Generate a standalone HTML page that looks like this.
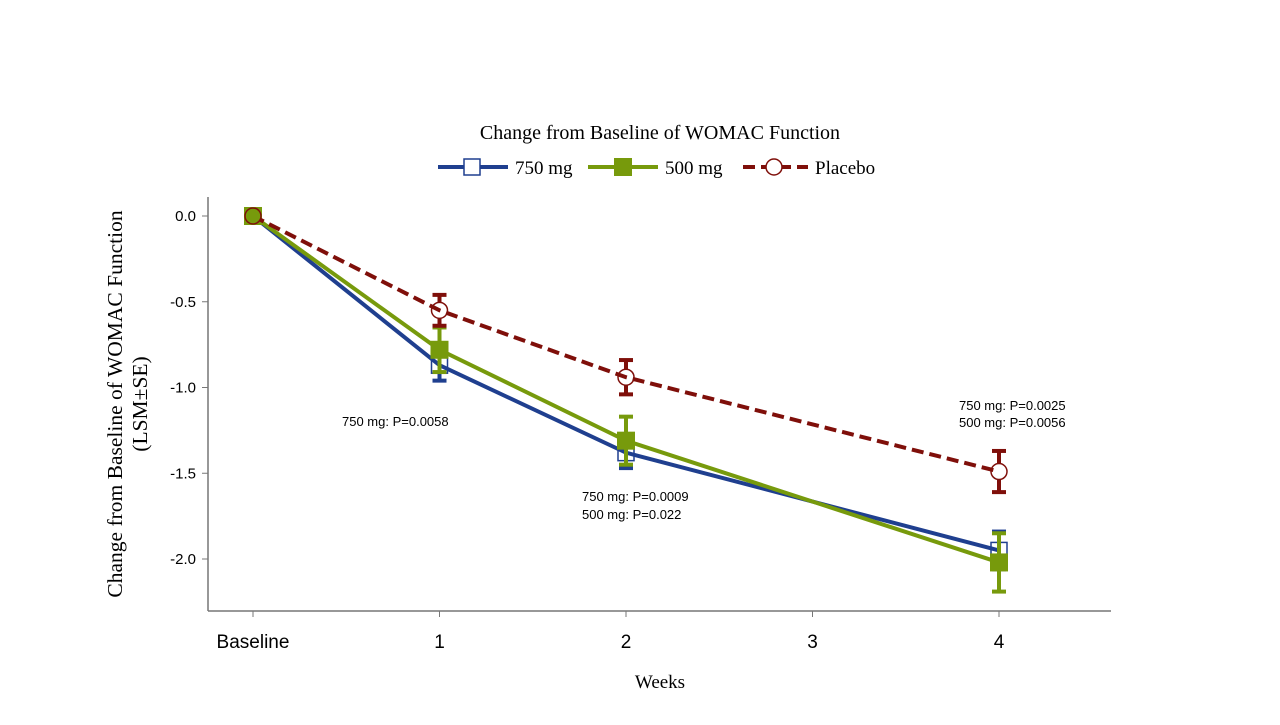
<!DOCTYPE html>
<html><head><meta charset="utf-8"><style>
body{margin:0;background:#fff;width:1280px;height:720px;overflow:hidden}
svg text{font-family:"Liberation Sans",sans-serif}
.serif{font-family:"Liberation Serif",serif}
</style></head><body>
<svg id="chart" width="1280" height="720">
<text class="serif" x="660" y="139" font-size="20" text-anchor="middle">Change from Baseline of WOMAC Function</text>
<g>
<g><line x1="438" y1="167" x2="508" y2="167" stroke="#1f3f8f" stroke-width="4"/><rect x="464" y="159" width="16" height="16" fill="#fff" stroke="#1f3f8f" stroke-width="1.5"/><text class="serif" x="515" y="174" font-size="19">750 mg</text></g>
<g><line x1="588" y1="167" x2="658" y2="167" stroke="#779a0c" stroke-width="4"/><rect x="614" y="158" width="18" height="18" fill="#779a0c"/><text class="serif" x="665" y="174" font-size="19">500 mg</text></g>
<g><line x1="743" y1="167" x2="808" y2="167" stroke="#7f0f0a" stroke-width="4" stroke-dasharray="12,6"/><circle cx="774" cy="167" r="8" fill="#fff" stroke="#7f0f0a" stroke-width="1.5"/><text class="serif" x="815" y="174" font-size="19">Placebo</text></g>
</g>
<g id="axes"></g><g id="marks"></g>
<text class="serif" x="660" y="688" font-size="19" text-anchor="middle">Weeks</text>
<text class="serif" transform="translate(122,404) rotate(-90)" font-size="21.5" text-anchor="middle"><tspan x="0" dy="0">Change from Baseline of WOMAC Function</tspan><tspan x="0" dy="25">(LSM±SE)</tspan></text>
<g font-size="13">
<text x="342" y="426">750 mg: P=0.0058</text>
<text x="582" y="501">750 mg: P=0.0009</text><text x="582" y="519">500 mg: P=0.022</text>
<text x="959" y="410">750 mg: P=0.0025</text><text x="959" y="427">500 mg: P=0.0056</text>
</g>
</svg>
<script>
const categories=["Baseline","1","2","3","4"];
const xIdx750=[0,1,2,4], xIdx500=[0,1,2,4], xIdxPbo=[0,1,2,4];
const val750=[0,-0.87,-1.38,-1.95];
const se750=[0,0.09,0.09,0.11];
const val500=[0,-0.78,-1.31,-2.02];
const se500=[0,0.13,0.14,0.17];
const valPbo=[0,-0.55,-0.94,-1.49];
const sePbo=[0,0.09,0.10,0.12];
const yTicks=[0,-0.5,-1,-1.5,-2];
const yTickLabels=["0.0","-0.5","-1.0","-1.5","-2.0"];
const NS="http://www.w3.org/2000/svg";
const xs=i=>253+i*186.5, ys=v=>216-v*171.5;
function mk(tag,attrs,parent){const e=document.createElementNS(NS,tag);for(const k in attrs)e.setAttribute(k,attrs[k]);parent.appendChild(e);return e;}
const axes=document.getElementById('axes'), marks=document.getElementById('marks');
let l=mk('line',{x1:208,y1:197,x2:208,y2:611,stroke:'#777','stroke-width':1.5},axes);


l=mk('line',{x1:208,y1:611,x2:1111,y2:611,stroke:'#777','stroke-width':1.5},axes);


yTicks.forEach((v,i)=>{mk('line',{x1:202,x2:208,y1:ys(v),y2:ys(v),stroke:'#777'},axes);
 const t=mk('text',{x:196,y:ys(v)+5,'font-size':15,'text-anchor':'end'},axes);t.textContent=yTickLabels[i];
 
 });
categories.forEach((c,i)=>{mk('line',{x1:xs(i),x2:xs(i),y1:611,y2:617,stroke:'#777'},axes);
 const t=mk('text',{x:xs(i),y:648,'font-size':19,'text-anchor':'middle'},axes);t.textContent=c;
 
 });
function series(name,idx,vals,se,color,dash,marker){
 const g=mk('g',{},marks);
 
 
 const p=mk('polyline',{points:idx.map((x,i)=>xs(x)+','+ys(vals[i])).join(' '),fill:'none',stroke:color,'stroke-width':4},g);
 if(dash)p.setAttribute('stroke-dasharray',dash);
 idx.forEach((x,i)=>{if(se[i]>0){const cx=xs(x),cy=ys(vals[i]),a=ys(vals[i]+se[i]),b=ys(vals[i]-se[i]);
  const gap=marker==='circle'?8:0;
  mk('line',{x1:cx,x2:cx,y1:a,y2:cy-gap,stroke:color,'stroke-width':4},g);
  mk('line',{x1:cx,x2:cx,y1:cy+gap,y2:b,stroke:color,'stroke-width':4},g);
  mk('line',{x1:cx-7,x2:cx+7,y1:a,y2:a,stroke:color,'stroke-width':4},g);
  mk('line',{x1:cx-7,x2:cx+7,y1:b,y2:b,stroke:color,'stroke-width':4},g);}
  const cx=xs(x),cy=ys(vals[i]);let m;
  if(marker==='open-square')m=mk('rect',{x:cx-8,y:cy-8,width:16,height:16,fill:'none',stroke:color,'stroke-width':1.5},g);
  else if(marker==='square')m=mk('rect',{x:cx-9,y:cy-9,width:18,height:18,fill:color},g);
  else m=mk('circle',{cx:cx,cy:cy,r:8,fill:i===0?'#779a0c':'none',stroke:color,'stroke-width':1.5},g);
  
  });
}
series('750mg',xIdx750,val750,se750,'#1f3f8f',null,'open-square');
series('500mg',xIdx500,val500,se500,'#779a0c',null,'square');
series('placebo',xIdxPbo,valPbo,sePbo,'#7f0f0a','12,6','circle');
</script>
</body></html>
